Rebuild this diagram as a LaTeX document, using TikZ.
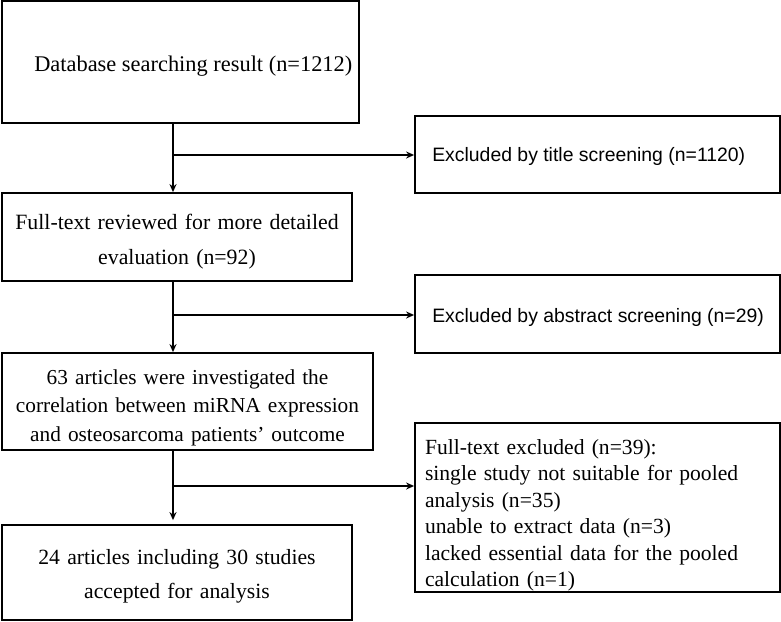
\documentclass[tikz,border=0pt]{standalone}
\usepackage{fontspec}
\setmainfont{Liberation Serif}
\setsansfont{Liberation Sans}
\usetikzlibrary{arrows.meta,calc}
\begin{document}
\begin{tikzpicture}[x=1pt,y=-1pt,
  box/.style={draw=black,line width=1.8pt,inner sep=0pt},
  txt/.style={inner sep=0pt,font=\fontsize{21.8}{35}\selectfont},
  stxt/.style={inner sep=0pt,font=\sffamily\fontsize{19.4}{22}\selectfont},
  conn/.style={line width=1.5pt,draw=black},
  arr/.style={conn,-{Stealth[length=8pt,width=7pt]}}]
\useasboundingbox (0,0) rectangle (781,621);
% left column boxes
\node[box,minimum width=357pt,minimum height=122pt] (b1) at (180.5,62) {};
\node[box,minimum width=350pt,minimum height=88pt] (b2) at (177,237) {};
\node[box,minimum width=371pt,minimum height=97pt] (b3) at (187.5,401.5) {};
\node[box,minimum width=350pt,minimum height=95pt] (b4) at (177,572.5) {};
% right column boxes
\node[box,minimum width=365pt,minimum height=77pt] (r1) at (597.5,154.5) {};
\node[box,minimum width=365pt,minimum height=78pt] (r2) at (597.5,314) {};
\node[box,minimum width=365pt,minimum height=169pt] (r3) at (597.5,507.5) {};
% texts
\node[txt,font=\fontsize{22.4}{35}\selectfont,anchor=west] (b1t) at ($(b1.west)+(33,4)$) {Database searching result (n=1212)};
\node[txt,text width=350pt,align=center] (b2t) at ($(b2.center)+(0,5)$) {Full-text reviewed for more detailed\\evaluation (n=92)};
\node[txt,text width=371pt,align=center,font=\fontsize{21.3}{28.5}\selectfont] (b3t) at ($(b3.center)+(0,6)$) {63 articles were investigated the\\correlation between miRNA expression\\and osteosarcoma patients’ outcome};
\node[txt,text width=350pt,align=center,font=\fontsize{21.7}{34}\selectfont] (b4t) at ($(b4.center)+(0,4)$) {24 articles including 30 studies\\accepted for analysis};
\node[stxt,anchor=west] (r1t) at ($(r1.west)+(18,2)$) {Excluded by title screening (n=1120)};
\node[stxt,anchor=west] (r2t) at ($(r2.west)+(18,3)$) {Excluded by abstract screening (n=29)};
\node[txt,text width=345pt,align=left,font=\fontsize{21.6}{26.5}\selectfont] (r3t) at ($(r3.center)+(0,8)$) {Full-text excluded (n=39):\\single study not suitable for pooled\\analysis (n=35)\\unable to extract data (n=3)\\lacked essential data for the pooled\\calculation (n=1)};
% connectors
\coordinate (j1) at (173,155);
\coordinate (j2) at (173,315);
\coordinate (j3) at (173,486);
\draw[arr] (b1.south -| j1) -- (b2.north -| j1);
\draw[arr] (j1) -- (r1.west |- j1);
\draw[arr] (b2.south -| j2) -- (b3.north -| j2);
\draw[arr] (j2) -- (r2.west |- j2);
\draw[arr] (b3.south -| j3) -- ($(b4.north -| j3)+(0,-4)$);
\draw[arr] (j3) -- (r3.west |- j3);
\end{tikzpicture}
\end{document}
